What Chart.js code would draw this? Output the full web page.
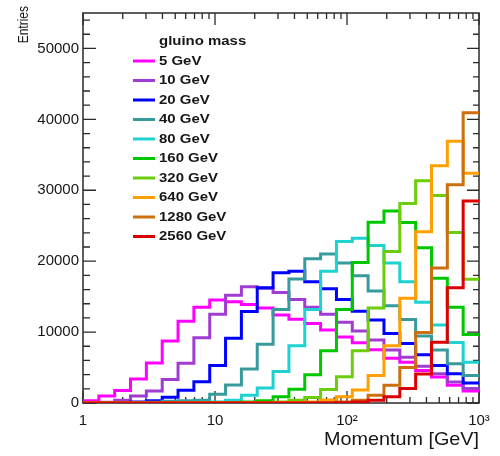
<!DOCTYPE html>
<html>
<head>
<meta charset="utf-8">
<script src="https://cdn.jsdelivr.net/npm/chart.js@4.4.1/dist/chart.umd.min.js"></script>
<style>
  html, body { margin: 0; padding: 0; background: #fff; }
  canvas { display: block; }
</style>
</head>
<body>
<canvas id="chart" width="500" height="456"></canvas>
<script>
// Logarithmic momentum binning: 25 bins from 1 to 1000 GeV
const binEdges = [1, 1.3183, 1.7378, 2.2909, 3.0200, 3.9811, 5.2481, 6.9183, 9.1201,
  12.023, 15.849, 20.893, 27.542, 36.308, 47.863, 63.096, 83.176, 109.65, 144.54,
  190.55, 251.19, 331.13, 436.52, 575.44, 758.58, 1000];

const massTitles = ['5 GeV', '10 GeV', '20 GeV', '40 GeV', '80 GeV',
  '160 GeV', '320 GeV', '640 GeV', '1280 GeV', '2560 GeV'];

// Entries per momentum bin for each gluino mass
const entries5    = [300, 1000, 1750, 3400, 5650, 8760, 11540, 13490, 14530, 14280, 13900, 13400, 12400, 11800, 11200, 10300, 9300, 8500, 7500, 6300, 5750, 4590, 3660, 2500, 1700];
const entries10   = [0, 120, 380, 1000, 1700, 3300, 5600, 9200, 12500, 15200, 16400, 16200, 15600, 14600, 13500, 12500, 11400, 10150, 8900, 7470, 6440, 5190, 4130, 2970, 2040];
const entries20   = [0, 0, 50, 150, 300, 800, 1800, 3000, 5300, 9130, 12900, 16270, 18360, 18590, 17100, 16100, 14600, 12950, 11700, 9800, 8390, 6810, 5280, 4130, 2830];
const entries40   = [0, 0, 0, 50, 100, 250, 300, 400, 1250, 2550, 4800, 8300, 13170, 17480, 20350, 21000, 19750, 17940, 15810, 13720, 11780, 9460, 7470, 5520, 3890];
const entries80   = [0, 0, 0, 0, 0, 0, 50, 100, 150, 400, 1100, 2130, 4450, 8070, 13170, 18590, 22760, 23220, 22200, 19750, 17100, 14200, 11000, 8530, 5750];
const entries160  = [0, 0, 0, 0, 0, 0, 0, 0, 30, 60, 150, 300, 880, 1950, 3990, 7370, 13200, 19800, 25500, 27080, 25450, 21900, 17600, 13500, 9650];
const entries320  = [0, 0, 0, 0, 0, 0, 0, 0, 0, 0, 30, 80, 150, 400, 790, 1900, 3700, 7370, 13400, 21370, 28130, 31330, 29250, 24060, 17450];
const entries640  = [0, 0, 0, 0, 0, 0, 0, 0, 0, 0, 0, 0, 30, 80, 150, 420, 880, 1850, 3890, 8070, 14780, 24150, 33450, 36900, 32400];
const entries1280 = [0, 0, 0, 0, 0, 0, 0, 0, 0, 0, 0, 0, 0, 0, 20, 50, 150, 400, 1110, 2500, 5000, 9950, 19050, 30780, 40930];
const entries2560 = [0, 0, 0, 0, 0, 0, 0, 0, 0, 0, 0, 0, 0, 0, 0, 0, 30, 150, 400, 880, 2040, 4080, 8570, 16270, 28470];

const seriesValues = [entries5, entries10, entries20, entries40, entries80,
  entries160, entries320, entries640, entries1280, entries2560];

const yTickValues = [0, 10000, 20000, 30000, 40000, 50000];
const xTickLabels = { 1: '1', 10: '10', 100: '10\u00b2', 1000: '10\u00b3' };

const lineColors = ['#ff00ff', '#a03cd2', '#0000ff', '#379b9b', '#1ed2d2',
  '#00c800', '#6ccd0a', '#ffa000', '#cd6e0f', '#dc0000'];

const TEXT = '#161616';
const FONT = '"Liberation Sans", Arial, Helvetica, sans-serif';

// Histogram outline: each bin value is held from its lower edge to the next edge
function histPoints(values) {
  const pts = values.map((v, i) => ({ x: binEdges[i], y: v }));
  pts.push({ x: binEdges[binEdges.length - 1], y: values[values.length - 1] });
  return pts;
}

const datasets = seriesValues.map((vals, i) => ({
  label: massTitles[i],
  data: histPoints(vals),
  borderColor: lineColors[i],
  backgroundColor: lineColors[i],
  borderWidth: 3,
  pointRadius: 0,
  stepped: true,
  fill: false,
  tension: 0,
  order: seriesValues.length - 1 - i   // heavier masses drawn on top
}));

function nearly(a, b) { return Math.abs(a - b) < 1e-6 * Math.max(1, b); }

// Frame with inward-pointing major and minor ticks on all four sides
const framePlugin = {
  id: 'frame',
  beforeDraw(chart) {
    const ctx = chart.ctx;
    ctx.save();
    ctx.fillStyle = '#fff';
    ctx.fillRect(0, 0, chart.width, chart.height);
    ctx.restore();
  },
  beforeDatasetsDraw(chart) {
    const { ctx, chartArea: a, scales: { x, y } } = chart;
    ctx.save();
    ctx.strokeStyle = '#2a2a2a';
    ctx.lineWidth = 1.5;
    ctx.strokeRect(a.left, a.top, a.right - a.left, a.bottom - a.top);
    ctx.lineWidth = 1.3;
    ctx.beginPath();
    // y ticks: major every 10000, minor every 2000
    for (let v = 0; v <= 55000; v += 2000) {
      const py = y.getPixelForValue(v);
      if (py < a.top + 1) continue;
      const major = v % 10000 === 0;
      ctx.moveTo(a.left, py); ctx.lineTo(a.left + (major ? 13 : 7), py);
      ctx.moveTo(a.right, py); ctx.lineTo(a.right - (major ? 12 : 6), py);
    }
    // x ticks: decades major, 2..9 minor
    for (let d = 1; d <= 1000; d *= 10) {
      for (let m = 1; m <= 9; m++) {
        const v = d * m;
        if (v > 1000) break;
        const px = x.getPixelForValue(v);
        const major = m === 1;
        ctx.moveTo(px, a.bottom); ctx.lineTo(px, a.bottom - (major ? 12 : 6));
        ctx.moveTo(px, a.top); ctx.lineTo(px, a.top + (major ? 12 : 6));
      }
    }
    ctx.stroke();
    ctx.restore();
  },
  afterDraw(chart) {
    const { ctx, chartArea: a } = chart;
    ctx.save();
    ctx.fillStyle = TEXT;

    // x-axis title, right aligned to the frame
    ctx.font = '18.5px ' + FONT;
    ctx.textBaseline = 'alphabetic';
    ctx.textAlign = 'right';
    ctx.save();
    ctx.translate(a.right, 445);
    ctx.scale(1.07, 1);
    ctx.fillText('Momentum [GeV]', 0, 0);
    ctx.restore();

    // y-axis title, rotated, aligned to the top
    ctx.save();
    ctx.translate(27.5, 6);
    ctx.rotate(-Math.PI / 2);
    ctx.scale(1, 1.2);
    ctx.font = '12px ' + FONT;
    ctx.textAlign = 'right';
    ctx.textBaseline = 'alphabetic';
    ctx.fillText('Entries', 0, 0);
    ctx.restore();

    // legend
    ctx.font = 'bold 13px ' + FONT;
    ctx.textAlign = 'left';
    ctx.textBaseline = 'middle';
    ctx.save();
    ctx.translate(159, 41);
    ctx.scale(1.15, 1);
    ctx.fillText('gluino mass', 0, 0);
    ctx.restore();
    chart.data.datasets.forEach((ds, i) => {
      const cy = 61 + 19.5 * i;
      ctx.strokeStyle = ds.borderColor;
      ctx.lineWidth = 3;
      ctx.beginPath();
      ctx.moveTo(133, cy);
      ctx.lineTo(155, cy);
      ctx.stroke();
      ctx.save();
      ctx.translate(159, cy);
      ctx.scale(1.15, 1);
      ctx.fillStyle = TEXT;
      ctx.fillText(ds.label, 0, 0);
      ctx.restore();
    });
    ctx.restore();
  }
};

new Chart(document.getElementById('chart'), {
  type: 'line',
  data: { datasets },
  options: {
    responsive: false,
    animation: false,
    events: [],
    layout: { padding: { left: 0, right: 21, top: 7, bottom: 0 } },
    plugins: { legend: { display: false }, tooltip: { enabled: false } },
    scales: {
      x: {
        type: 'logarithmic',
        min: 1,
        max: 1000,
        grid: { display: false, drawTicks: false },
        border: { display: false },
        afterFit(s) { s.height = 53; },
        ticks: {
          autoSkip: false,
          maxRotation: 0,
          padding: 9,
          color: TEXT,
          font: { family: FONT, size: 15 },
          callback(value) {
            for (const k of Object.keys(xTickLabels)) {
              if (nearly(value, Number(k))) return xTickLabels[k];
            }
            return '';
          }
        }
      },
      y: {
        type: 'linear',
        min: 0,
        max: 55000,
        grid: { display: false, drawTicks: false },
        border: { display: false },
        afterFit(s) { s.width = 83; },
        afterBuildTicks(s) { s.ticks = yTickValues.map(v => ({ value: v })); },
        ticks: {
          padding: 4,
          color: TEXT,
          font: { family: FONT, size: 15 },
          callback(value) { return String(value); }
        }
      }
    }
  },
  plugins: [framePlugin]
});
</script>
</body>
</html>
